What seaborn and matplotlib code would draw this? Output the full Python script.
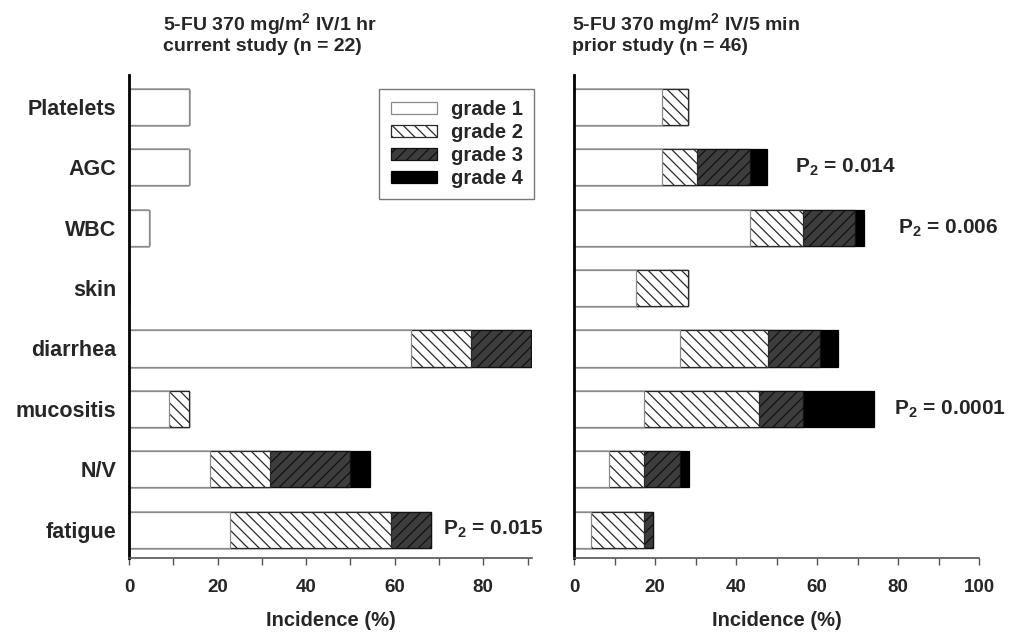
import numpy as np
import pandas as pd
import seaborn as sns
import matplotlib
matplotlib.use("Agg")
import matplotlib.pyplot as plt
from matplotlib.patches import Patch
from matplotlib.ticker import MultipleLocator
from matplotlib import font_manager as fm

# ---------------- data ----------------
categories = ["Platelets", "AGC", "WBC", "skin", "diarrhea", "mucositis", "N/V", "fatigue"]
grades = ["grade 1", "grade 2", "grade 3", "grade 4"]

cur_g1 = [13.6, 13.6, 4.5, 0.0, 63.6, 9.1, 18.2, 22.7]
cur_g2 = [0.0, 0.0, 0.0, 0.0, 13.6, 4.5, 13.6, 36.4]
cur_g3 = [0.0, 0.0, 0.0, 0.0, 13.6, 0.0, 18.2, 9.1]
cur_g4 = [0.0, 0.0, 0.0, 0.0, 0.0, 0.0, 4.5, 0.0]

prior_g1 = [21.7, 21.7, 43.5, 15.2, 26.1, 17.4, 8.7, 4.3]
prior_g2 = [6.5, 8.7, 13.0, 13.0, 21.7, 28.3, 8.7, 13.0]
prior_g3 = [0.0, 13.0, 13.0, 0.0, 13.0, 10.9, 8.7, 2.2]
prior_g4 = [0.0, 4.3, 2.2, 0.0, 4.3, 17.4, 2.2, 0.0]

left_title = "5-FU 370 mg/m$^\\mathbf{2}$ IV/1 hr\ncurrent study (n = 22)"
right_title = "5-FU 370 mg/m$^\\mathbf{2}$ IV/5 min\nprior study (n = 46)"
xlabel = "Incidence (%)"
left_pvals = [("fatigue", 71.0, "0.015")]
right_pvals = [("AGC", 54.5, "0.014"), ("WBC", 80.0, "0.006"), ("mucositis", 79.0, "0.0001")]

# ---------------- style ----------------
sns.set_theme(style="white")
names = {f.name for f in fm.fontManager.ttflist}
fam = "Liberation Sans Narrow" if "Liberation Sans Narrow" in names else "Liberation Sans"
plt.rcParams["font.family"] = [fam, "DejaVu Sans"]
plt.rcParams["font.weight"] = "bold"
plt.rcParams["mathtext.fontset"] = "custom"
plt.rcParams["mathtext.rm"] = fam
plt.rcParams["mathtext.bf"] = fam + ":bold"
plt.rcParams["hatch.linewidth"] = 0.9

styles = [
    dict(color="white", edgecolor="#8a8a8a", hatch=None),
    dict(color="white", edgecolor="#2a2a2a", hatch="\\\\\\"),
    dict(color="#3d3d3d", edgecolor="#111111", hatch="///"),
    dict(color="black", edgecolor="black", hatch=None),
]

fig = plt.figure(figsize=(10.15, 6.35), dpi=100)
ax1 = fig.add_axes([129 / 1015, 1 - 558 / 635, (532 - 129) / 1015, (558 - 75) / 635])
ax2 = fig.add_axes([574 / 1015, 1 - 558 / 635, (979 - 574) / 1015, (558 - 75) / 635])


def draw(ax, layers, xmax, pvals, show_labels):
    arr = np.array(layers)
    cum = np.cumsum(arr, axis=0)
    for k in range(3, -1, -1):
        st = styles[k]
        sns.barplot(x=cum[k], y=categories, orient="h", ax=ax, color=st["color"],
                    edgecolor=st["edgecolor"], hatch=st["hatch"], linewidth=0.9,
                    width=0.6, saturation=1, errorbar=None)
    ax.set_xlim(0, xmax)
    ax.set_ylim(7.47, -0.53)
    for s in ["top", "right"]:
        ax.spines[s].set_visible(False)
    ax.spines["left"].set_color("black")
    ax.spines["left"].set_linewidth(2.0)
    ax.spines["bottom"].set_color("#555555")
    ax.spines["bottom"].set_linewidth(1.2)
    ax.xaxis.set_major_locator(MultipleLocator(20))
    ax.xaxis.set_minor_locator(MultipleLocator(10))
    ax.tick_params(axis="x", which="both", direction="out", length=5, width=1,
                   color="#555555", bottom=True, labelsize=13.5, pad=10)
    ax.tick_params(axis="y", length=0, labelsize=15.5, pad=9)
    ax.set_xlabel(xlabel, fontsize=14.5, fontweight="bold", labelpad=11)
    ax.set_ylabel("")
    if not show_labels:
        ax.set_yticklabels([])
    for lab in ax.get_xticklabels() + ax.get_yticklabels():
        lab.set_fontweight("bold")
    for cat, xpos, val in pvals:
        ax.text(xpos, categories.index(cat), "P$_\\mathbf{2}$ = " + val, fontsize=15,
                fontweight="bold", va="center", ha="left")


draw(ax1, [cur_g1, cur_g2, cur_g3, cur_g4], 91, left_pvals, True)
draw(ax2, [prior_g1, prior_g2, prior_g3, prior_g4], 100, right_pvals, False)

handles = [Patch(facecolor=s["color"], edgecolor=s["edgecolor"], hatch=s["hatch"], linewidth=0.9)
           for s in styles]
leg = ax1.legend(handles, grades, loc="upper right", bbox_to_anchor=(1.005, 0.971),
                 borderaxespad=0, fancybox=False, frameon=True, handlelength=2.3,
                 handleheight=0.6, labelspacing=0.2, borderpad=0.55, handletextpad=0.7,
                 prop={"weight": "bold", "size": 14.5})
leg.get_frame().set_edgecolor("#555555")
leg.get_frame().set_linewidth(1.0)

fig.text(163 / 1015, 1 - 11 / 635, left_title, fontsize=14, fontweight="bold",
         va="top", ha="left", linespacing=1.0)
fig.text(572 / 1015, 1 - 11 / 635, right_title, fontsize=14, fontweight="bold",
         va="top", ha="left", linespacing=1.0)

fig.savefig("out.png", dpi=100)
